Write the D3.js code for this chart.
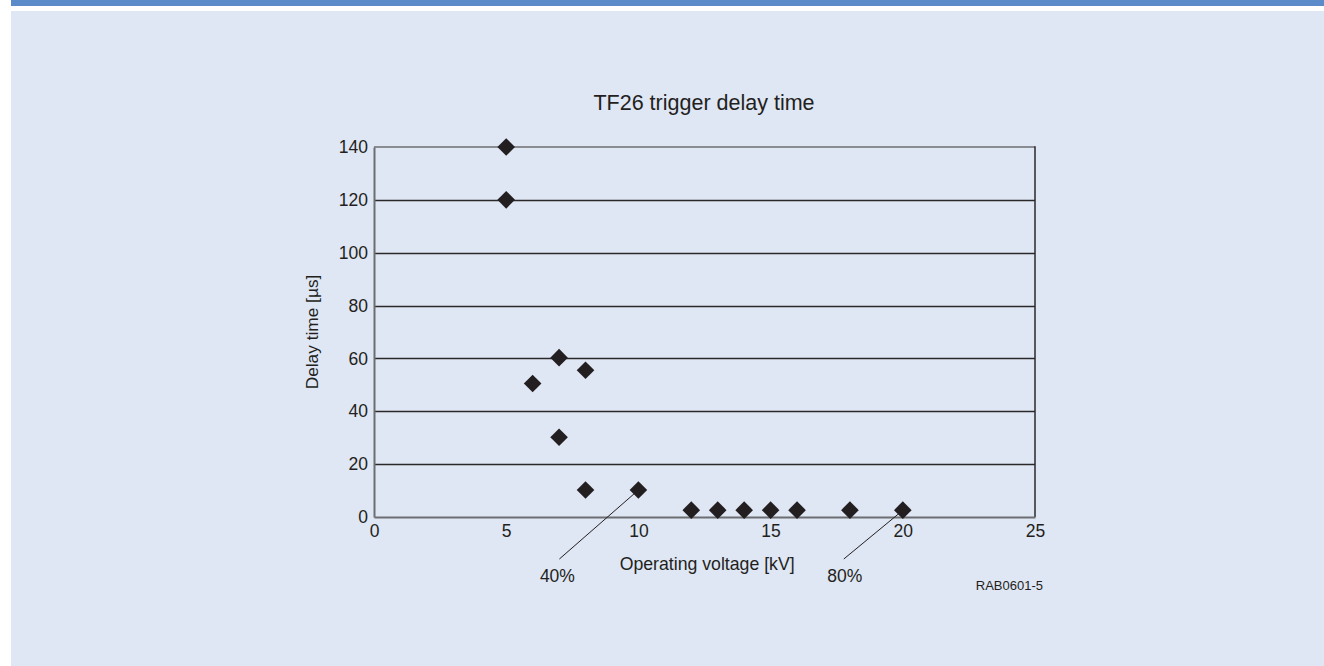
<!DOCTYPE html>
<html>
<head>
<meta charset="utf-8">
<script src="https://cdn.jsdelivr.net/npm/d3@7"></script>
<style>
  html, body { margin: 0; padding: 0; background: #ffffff; }
  svg { display: block; font-family: "Liberation Sans", Arial, Helvetica, sans-serif; }
</style>
</head>
<body>
<div id="wrapper"></div>
<script>
// data
const voltages = [5, 5, 6, 7, 8, 7, 8, 10, 12, 13, 14, 15, 16, 18, 20];
const delays = [140, 120, 50.5, 60.3, 55.5, 30.2, 10.2, 10.2, 2.6, 2.6, 2.6, 2.6, 2.6, 2.6, 2.6];
const xTicks = [0, 5, 10, 15, 20, 25];
const yTicks = [0, 20, 40, 60, 80, 100, 120, 140];
const annotationLabels = ['40%', '80%'];
const annotationVoltages = [10, 20];
const annotationDelays = [10.2, 2.6];

const dataset = voltages.map((v, i) => ({ voltage: v, delay: delays[i] }));
const xAccessor = (d) => d.voltage;
const yAccessor = (d) => d.delay;

// 1. dimensions

const dimensions = {
  width: 1324,
  height: 666,
  margin: { top: 147, right: 289, bottom: 149, left: 374 },
};
dimensions.boundedWidth =
  dimensions.width - dimensions.margin.left - dimensions.margin.right;
dimensions.boundedHeight =
  dimensions.height - dimensions.margin.top - dimensions.margin.bottom;

const textColor = '#231f20';

// 2. canvas

const wrapper = d3
  .select('#wrapper')
  .append('svg')
  .attr('width', dimensions.width)
  .attr('height', dimensions.height);

// page frame: blue rule, white strip, light panel
wrapper.append('rect')
  .attr('x', 11).attr('y', 0)
  .attr('width', dimensions.width - 11).attr('height', 6)
  .attr('fill', '#5b8bc8');
wrapper.append('rect')
  .attr('x', 11).attr('y', 11)
  .attr('width', dimensions.width - 11).attr('height', dimensions.height - 11)
  .attr('fill', '#dfe6f4');

const bounds = wrapper
  .append('g')
  .attr('transform', `translate(${dimensions.margin.left}, ${dimensions.margin.top})`);

// 3. scales

const xScale = d3.scaleLinear().domain([0, 25]).range([0, dimensions.boundedWidth]);
const yScale = d3.scaleLinear().domain([0, 140]).range([dimensions.boundedHeight, 0]);

// 4. grid + frame

bounds.append('g')
  .selectAll('line')
  .data(yTicks.filter((t) => t > 0 && t < 140))
  .join('line')
  .attr('x1', 0)
  .attr('x2', dimensions.boundedWidth)
  .attr('y1', (d) => Math.round(yScale(d)) + 0.5)
  .attr('y2', (d) => Math.round(yScale(d)) + 0.5)
  .attr('stroke', '#2a2829')
  .attr('stroke-width', 1.3);

// top line (140) and right border
bounds.append('line')
  .attr('x1', 0).attr('x2', dimensions.boundedWidth)
  .attr('y1', yScale(140)).attr('y2', yScale(140))
  .attr('stroke', '#6d6e71').attr('stroke-width', 1.6);
bounds.append('line')
  .attr('x1', dimensions.boundedWidth).attr('x2', dimensions.boundedWidth)
  .attr('y1', yScale(140) - 0.8).attr('y2', yScale(0))
  .attr('stroke', '#2a2829').attr('stroke-width', 1.5);

// 5. axes

const yAxisGenerator = d3.axisLeft(yScale).tickValues(yTicks).tickSize(0).tickPadding(6);
const yAxis = bounds.append('g').call(yAxisGenerator);
yAxis.select('.domain').attr('stroke', '#6d6e71').attr('stroke-width', 2);
yAxis.selectAll('text')
  .attr('fill', textColor)
  .style('font-size', '17.5px')
  .style('font-family', '"Liberation Sans", Arial, sans-serif');

const xAxisGenerator = d3.axisBottom(xScale).tickValues(xTicks).tickSize(0).tickPadding(8);
const xAxis = bounds.append('g')
  .attr('transform', `translate(0, ${dimensions.boundedHeight})`)
  .call(xAxisGenerator);
xAxis.select('.domain').attr('stroke', '#6d6e71').attr('stroke-width', 2);
xAxis.selectAll('text')
  .attr('fill', textColor)
  .style('font-size', '17.5px')
  .style('font-family', '"Liberation Sans", Arial, sans-serif');

// 6. points

const diamond = d3.symbol().type(d3.symbolSquare).size(155);
bounds.append('g')
  .selectAll('path')
  .data(dataset)
  .join('path')
  .attr('d', diamond)
  .attr('transform', (d) => `translate(${xScale(xAccessor(d))}, ${yScale(yAccessor(d))}) rotate(45)`)
  .attr('fill', '#231f20');

// 7. annotations

const annOffsets = [
  { lineDx: -79, textDx: -81 },
  { lineDx: -59, textDx: -58 },
];
annotationLabels.forEach((label, i) => {
  const px = xScale(annotationVoltages[i]);
  const py = yScale(annotationDelays[i]);
  bounds.append('line')
    .attr('x1', px - 4).attr('y1', py + 3.5)
    .attr('x2', px + annOffsets[i].lineDx)
    .attr('y2', dimensions.boundedHeight + 42)
    .attr('stroke', '#231f20').attr('stroke-width', 1);
  bounds.append('text')
    .attr('x', px + annOffsets[i].textDx)
    .attr('y', dimensions.boundedHeight + 64.5)
    .attr('text-anchor', 'middle')
    .attr('fill', textColor)
    .style('font-size', '17.5px')
    .text(label);
});

// 8. labels

wrapper.append('text')
  .attr('x', 704).attr('y', 110)
  .attr('text-anchor', 'middle')
  .attr('fill', textColor)
  .style('font-size', '21.5px')
  .text('TF26 trigger delay time');

bounds.append('text')
  .attr('x', xScale(12.6)).attr('y', dimensions.boundedHeight + 53)
  .attr('text-anchor', 'middle')
  .attr('fill', textColor)
  .style('font-size', '17.7px')
  .text('Operating voltage [kV]');

bounds.append('text')
  .attr('transform', `translate(${-62}, ${yScale(70)}) rotate(-90)`)
  .attr('text-anchor', 'middle')
  .attr('dy', '0.35em')
  .attr('fill', textColor)
  .style('font-size', '17.3px')
  .text('Delay time [µs]');

wrapper.append('text')
  .attr('x', 1043).attr('y', 590)
  .attr('text-anchor', 'end')
  .attr('fill', textColor)
  .style('font-size', '13px')
  .text('RAB0601-5');
</script>
</body>
</html>
